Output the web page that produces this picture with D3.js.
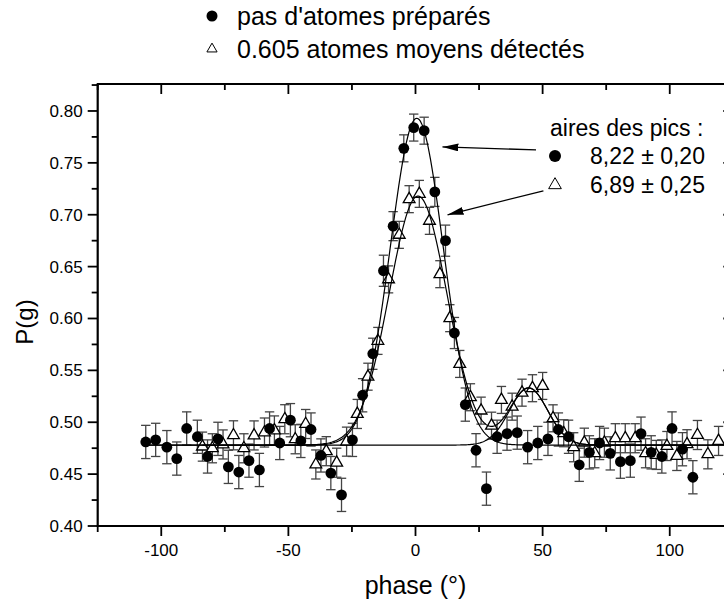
<!DOCTYPE html>
<html><head><meta charset="utf-8">
<script src="https://cdnjs.cloudflare.com/ajax/libs/d3/7.8.5/d3.min.js"></script>
<style>body{margin:0;background:#fff}svg{display:block;font-family:"Liberation Sans",Arial,sans-serif}</style>
</head><body><svg id="c" width="724" height="602"></svg>
<script>
// ---- data ----
const circlePhase = [-106.1,-102.2,-97.8,-93.9,-90.0,-85.8,-81.8,-77.7,-73.6,-69.5,-65.5,-61.4,-57.4,-53.4,-49.2,-45.1,-41.1,-37.2,-33.3,-29.1,-24.8,-20.8,-16.8,-12.6,-8.8,-4.6,-0.7,3.4,7.6,11.8,15.3,19.6,23.8,27.9,32.1,36.0,40.0,44.1,48.1,52.1,56.2,60.2,64.4,68.4,72.4,76.6,80.6,84.5,88.7,92.7,96.9,100.9,105.0,109.1];
const circleP = [0.481,0.483,0.476,0.465,0.494,0.486,0.467,0.484,0.457,0.452,0.463,0.454,0.494,0.480,0.502,0.482,0.493,0.468,0.451,0.430,0.483,0.526,0.566,0.646,0.689,0.764,0.784,0.781,0.722,0.675,0.586,0.517,0.473,0.436,0.486,0.489,0.490,0.476,0.480,0.484,0.493,0.486,0.459,0.471,0.480,0.470,0.462,0.463,0.489,0.471,0.467,0.494,0.474,0.447];
const circleErr = [0.016,0.016,0.016,0.016,0.016,0.016,0.016,0.016,0.016,0.016,0.016,0.016,0.016,0.016,0.016,0.016,0.016,0.016,0.016,0.016,0.016,0.016,0.015,0.015,0.014,0.013,0.013,0.013,0.014,0.015,0.015,0.016,0.016,0.016,0.016,0.016,0.016,0.016,0.016,0.016,0.016,0.016,0.016,0.016,0.016,0.016,0.016,0.016,0.016,0.016,0.016,0.016,0.016,0.016];

const trianglePhase = [-83.8,-79.9,-75.7,-71.6,-67.5,-63.5,-59.4,-55.5,-51.4,-47.3,-43.2,-39.2,-35.1,-31.0,-27.1,-22.9,-18.7,-14.8,-10.6,-6.4,-2.5,1.5,5.5,9.6,13.5,17.4,21.6,25.8,29.9,33.8,38.0,41.9,46.0,50.0,54.1,58.3,62.2,66.4,70.5,74.3,78.6,82.5,86.4,90.5,94.7,98.9,102.8,106.8,110.9,115.0,119.2];
const triangleP = [0.4765,0.4749,0.4786,0.4874,0.4749,0.4873,0.4901,0.4921,0.5029,0.4836,0.4983,0.4593,0.4721,0.4610,0.4813,0.5080,0.5439,0.5784,0.6377,0.6806,0.7150,0.7201,0.6941,0.6427,0.6003,0.5562,0.5241,0.5112,0.4967,0.5215,0.5150,0.5285,0.5328,0.5350,0.5038,0.4894,0.4759,0.4803,0.4701,0.4803,0.4846,0.4846,0.4846,0.4701,0.4685,0.4771,0.4675,0.4788,0.4877,0.4691,0.4820];
const triangleErr = [0.014,0.014,0.014,0.014,0.014,0.014,0.014,0.014,0.014,0.014,0.014,0.014,0.014,0.014,0.014,0.014,0.013,0.013,0.013,0.013,0.013,0.013,0.013,0.013,0.013,0.013,0.013,0.013,0.013,0.013,0.013,0.013,0.013,0.013,0.013,0.013,0.014,0.014,0.014,0.014,0.014,0.014,0.014,0.014,0.014,0.014,0.014,0.014,0.014,0.014,0.014];

// Gaussian fit parameters
const fitBaseline = 0.478;
const circleFitPeak = [0.315, 0.5, 10.4];      // amplitude, centre, sigma
const triangleFitPeak = [0.240, 1.0, 11.4];
const triangleFitSide = [0.055, 44.5, 7.5];

const xTicks = [-100,-50,0,50,100];
const xMinorTicks = [-125,-75,-25,25,75,125];
const yTicks = [0.40,0.45,0.50,0.55,0.60,0.65,0.70,0.75,0.80];
const yMinorTicks = [0.425,0.475,0.525,0.575,0.625,0.675,0.725,0.775,0.825];
const legendLabels = ["pas d'atomes préparés","0.605 atomes moyens détectés"];
const areaTitle = "aires des pics :";
const areaLabels = ["8,22 ± 0,20","6,89 ± 0,25"];
const xTitle = "phase (°)";
const yTitle = "P(g)";

// ---- drawing ----
const svg = d3.select("#c");
const L = 97.7, R = 733.3, T = 84, B = 526;
const x = d3.scaleLinear().domain([-125,125]).range([L,R]);
const y = d3.scaleLinear().domain([0.40,0.826]).range([B,T]);

const circles = circlePhase.map((p,i)=>({p, v:circleP[i], e:circleErr[i]}));
const triangles = trianglePhase.map((p,i)=>({p, v:triangleP[i], e:triangleErr[i]}));

const g = svg.append("g");

function errorBars(data, color){
  const eb = g.append("g").attr("stroke", color).attr("stroke-width",1.3).attr("fill","none");
  data.forEach(d=>{
    const cx = x(d.p);
    eb.append("line").attr("x1",cx).attr("x2",cx).attr("y1",y(d.v+d.e)).attr("y2",y(d.v-d.e));
    eb.append("line").attr("x1",cx-4.7).attr("x2",cx+4.7).attr("y1",y(d.v+d.e)).attr("y2",y(d.v+d.e));
    eb.append("line").attr("x1",cx-4.7).attr("x2",cx+4.7).attr("y1",y(d.v-d.e)).attr("y2",y(d.v-d.e));
  });
}
errorBars(circles, "#444");
errorBars(triangles, "#444");

const tri = d3.symbol().type(d3.symbolTriangle).size(60);
g.append("g").selectAll("path").data(triangles).join("path")
  .attr("d", tri).attr("transform", d=>`translate(${x(d.p)},${y(d.v)})`)
  .attr("fill","#fff").attr("stroke","#000").attr("stroke-width",1.3);
g.append("g").selectAll("circle").data(circles).join("circle")
  .attr("cx", d=>x(d.p)).attr("cy", d=>y(d.v)).attr("r",5.4).attr("fill","#000");

// fit curves
const gauss = (t, [a,c,s]) => a*Math.exp(-((t-c)*(t-c))/(2*s*s));
const line = d3.line().x(d=>x(d[0])).y(d=>y(d[1])).curve(d3.curveLinear);
function curve(t0, t1, f){
  const pts = d3.range(t0, t1+0.001, 0.5).map(t=>[t, f(t)]);
  g.append("path").attr("d", line(pts)).attr("fill","none").attr("stroke","#000").attr("stroke-width",1.2);
}
curve(circlePhase[0], circlePhase[circlePhase.length-1], t=>fitBaseline+gauss(t,circleFitPeak));
curve(circlePhase[0], 125, t=>fitBaseline+gauss(t,triangleFitSide));
curve(trianglePhase[0], 125, t=>fitBaseline+gauss(t,triangleFitPeak)+gauss(t,triangleFitSide));

// axes frame
const ax = svg.append("g").attr("stroke","#000");
ax.append("line").attr("x1",L).attr("x2",L).attr("y1",T).attr("y2",B+1).attr("stroke-width",2.2);
ax.append("line").attr("x1",L-1).attr("x2",R).attr("y1",B).attr("y2",B).attr("stroke-width",2.2);
ax.append("line").attr("x1",L-1).attr("x2",R).attr("y1",T).attr("y2",T).attr("stroke-width",2.2);
ax.append("line").attr("x1",R).attr("x2",R).attr("y1",T).attr("y2",B).attr("stroke-width",2.2);

xTicks.forEach(t=>{
  ax.append("line").attr("x1",x(t)).attr("x2",x(t)).attr("y1",B).attr("y2",B+10).attr("stroke-width",1.8);
  ax.append("line").attr("x1",x(t)).attr("x2",x(t)).attr("y1",T).attr("y2",T+10).attr("stroke-width",1.8);
});
xMinorTicks.forEach(t=>{
  ax.append("line").attr("x1",x(t)).attr("x2",x(t)).attr("y1",B).attr("y2",B+6).attr("stroke-width",1.8);
  ax.append("line").attr("x1",x(t)).attr("x2",x(t)).attr("y1",T).attr("y2",T+6).attr("stroke-width",1.8);
});
yTicks.forEach(t=>{
  ax.append("line").attr("x1",L-10).attr("x2",L).attr("y1",y(t)).attr("y2",y(t)).attr("stroke-width",1.8);
  ax.append("line").attr("x1",R-10).attr("x2",R).attr("y1",y(t)).attr("y2",y(t)).attr("stroke-width",1.8);
});
yMinorTicks.forEach(t=>{
  ax.append("line").attr("x1",L-6).attr("x2",L).attr("y1",y(t)).attr("y2",y(t)).attr("stroke-width",1.8);
  ax.append("line").attr("x1",R-6).attr("x2",R).attr("y1",y(t)).attr("y2",y(t)).attr("stroke-width",1.8);
});

const lab = svg.append("g").attr("fill","#000");
xTicks.forEach(t=>{
  lab.append("text").attr("x",x(t)).attr("y",B+30).attr("text-anchor","middle").attr("font-size",17).text(String(t));
});
yTicks.forEach(t=>{
  lab.append("text").attr("x",L-15).attr("y",y(t)).attr("dy","0.35em").attr("text-anchor","end").attr("font-size",17).text(d3.format(".2f")(t));
});
lab.append("text").attr("x",x(0)).attr("y",594).attr("text-anchor","middle").attr("font-size",25).text(xTitle);
lab.append("text").attr("transform","translate(33,322) rotate(-90)").attr("text-anchor","middle").attr("font-size",24).text(yTitle);

// legend
const lg = svg.append("g");
lg.append("circle").attr("cx",212).attr("cy",16).attr("r",5.5).attr("fill","#000");
lg.append("path").attr("d", d3.symbol().type(d3.symbolTriangle).size(45)()).attr("transform","translate(212,49)").attr("fill","#fff").attr("stroke","#000").attr("stroke-width",1);
legendLabels.forEach((s,i)=>{
  lg.append("text").attr("x",237).attr("y",16+i*33).attr("dy","0.35em").attr("font-size",25).text(s);
});

// peak-area annotation
const an = svg.append("g");
an.append("text").attr("x",550).attr("y",128).attr("dy","0.35em").attr("font-size",23).text(areaTitle);
an.append("circle").attr("cx",555).attr("cy",156).attr("r",6).attr("fill","#000");
an.append("path").attr("d", d3.symbol().type(d3.symbolTriangle).size(70)()).attr("transform","translate(555,185)").attr("fill","#fff").attr("stroke","#000").attr("stroke-width",1);
areaLabels.forEach((s,i)=>{
  an.append("text").attr("x",590).attr("y",156+i*29).attr("dy","0.35em").attr("font-size",23).text(s);
});

svg.append("defs").append("marker").attr("id","ah").attr("viewBox","0 0 16 8").attr("refX",16).attr("refY",4)
  .attr("markerWidth",16).attr("markerHeight",8).attr("markerUnits","userSpaceOnUse").attr("orient","auto")
  .append("path").attr("d","M0,0 L16,4 L0,8 Z").attr("fill","#000");
// arrows pointing from the labels to the fit peaks (data-space anchors)
const arrows = [[[47.4,0.7625],[10.6,0.7654]],[[50.3,0.7231],[12.6,0.6999]]];
arrows.forEach(([a,b])=>{
  an.append("line").attr("x1",x(a[0])).attr("y1",y(a[1])).attr("x2",x(b[0])).attr("y2",y(b[1]))
    .attr("stroke","#000").attr("stroke-width",1.3).attr("marker-end","url(#ah)");
});
</script></body></html>
